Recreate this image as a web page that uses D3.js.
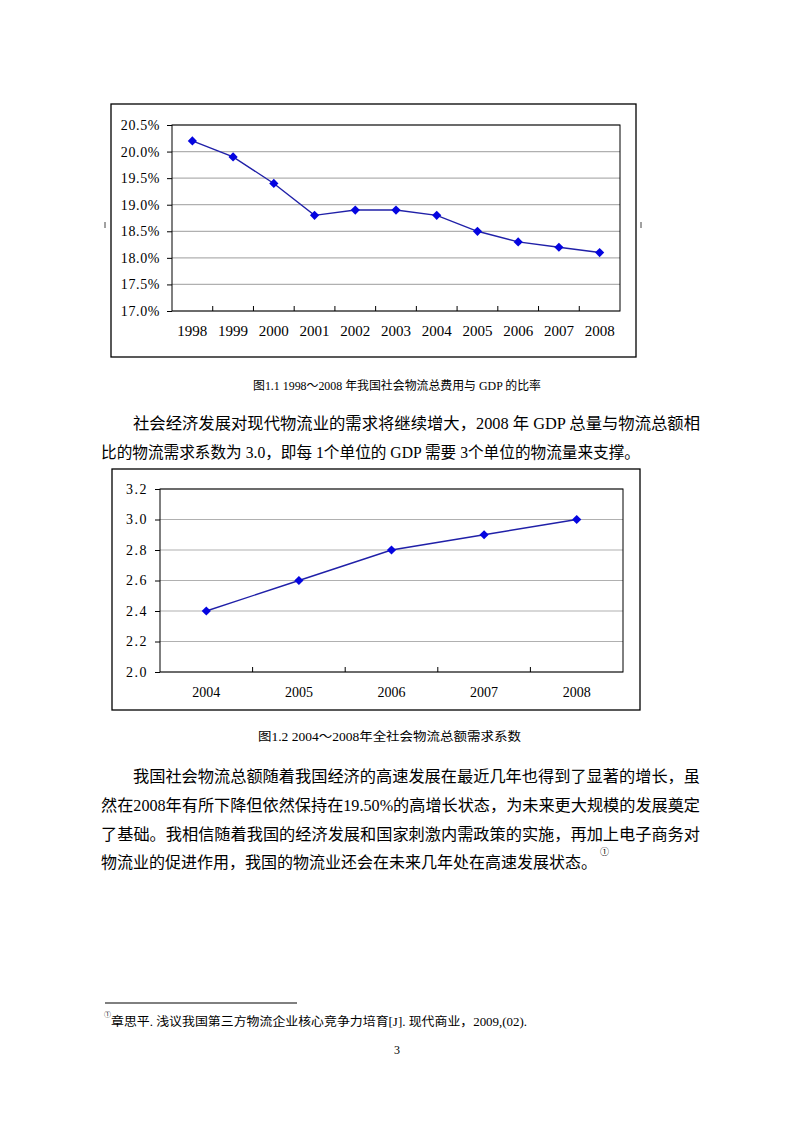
<!DOCTYPE html>
<html>
<head>
    <meta charset="utf-8">
    <script src="https://d3js.org/d3.v7.min.js"></script>
    <style>
        body { margin: 0; background: #fff; }
        .body-text { font-family: "Liberation Serif", "Noto Sans CJK SC", serif; font-size: 16px; fill: #000; }
        .cap { font-family: "Liberation Serif", "Noto Sans CJK SC", serif; font-size: 12px; fill: #000; }
        .tick-label { font-family: "Liberation Serif", serif; font-size: 14px; fill: #000; }
    </style>
</head>
<body>
    <svg width="793" height="1122"></svg>

    <script>
        const svg = d3.select("svg");
        svg.append("rect").attr("width", 793).attr("height", 1122).attr("fill", "#fff");

        // chart 1: logistics cost / GDP (%)
        const years1 = ["1998", "1999", "2000", "2001", "2002", "2003", "2004", "2005", "2006", "2007", "2008"];
        const ratio1 = [20.2, 19.9, 19.4, 18.8, 18.9, 18.9, 18.8, 18.5, 18.3, 18.2, 18.1];
        const yTicks1 = [17.0, 17.5, 18.0, 18.5, 19.0, 19.5, 20.0, 20.5];

        // chart 2: logistics demand coefficient
        const years2 = ["2004", "2005", "2006", "2007", "2008"];
        const coef2 = [2.4, 2.6, 2.8, 2.9, 3.0];
        const yTicks2 = [2.0, 2.2, 2.4, 2.6, 2.8, 3.0, 3.2];

        function drawChart(cfg) {
            const g = svg.append("g");

            // outer frame
            g.append("rect")
                .attr("x", cfg.box[0]).attr("y", cfg.box[1])
                .attr("width", cfg.box[2] - cfg.box[0]).attr("height", cfg.box[3] - cfg.box[1])
                .attr("fill", "#fff").attr("stroke", "#000").attr("stroke-width", 1.3);

            const x = d3.scaleBand().domain(cfg.cats).range([cfg.plot.l, cfg.plot.r]).padding(0);
            const y = d3.scaleLinear().domain(cfg.domain).range([cfg.plot.b, cfg.plot.t]);

            // gridlines
            g.selectAll("line.grid")
                .data(cfg.ticks)
                .enter().append("line")
                .attr("class", "grid")
                .attr("x1", cfg.plot.l).attr("x2", cfg.plot.r)
                .attr("y1", d => y(d)).attr("y2", d => y(d))
                .attr("stroke", "#b0b0b0").attr("stroke-width", 1.2);

            // plot border
            g.append("rect")
                .attr("x", cfg.plot.l).attr("y", cfg.plot.t)
                .attr("width", cfg.plot.r - cfg.plot.l).attr("height", cfg.plot.b - cfg.plot.t)
                .attr("fill", "none").attr("stroke", "#000").attr("stroke-width", 1);

            // y axis
            const yAxis = d3.axisLeft(y).tickValues(cfg.ticks).tickSize(5).tickPadding(7)
                .tickFormat(cfg.fmt);
            const ya = g.append("g").attr("transform", `translate(${cfg.plot.l},0)`).call(yAxis);
            ya.select(".domain").remove();
            ya.selectAll("line").attr("stroke", "#000");
            ya.selectAll("text").attr("class", "tick-label").attr("font-family", null).attr("font-size", null)
                .style("letter-spacing", cfg.ySpacing);

            // x axis labels (Excel style: ticks between categories, inside)
            const xAxis = d3.axisBottom(x).tickSize(0).tickPadding(cfg.xPad);
            const xa = g.append("g").attr("transform", `translate(0,${cfg.plot.b})`).call(xAxis);
            xa.select(".domain").remove();
            xa.selectAll("text").attr("class", "tick-label").attr("font-family", null).attr("font-size", null)
                .style("font-size", cfg.xSize);

            g.selectAll("line.xtick")
                .data(cfg.cats.slice(1))
                .enter().append("line")
                .attr("x1", d => x(d)).attr("x2", d => x(d))
                .attr("y1", cfg.plot.b).attr("y2", cfg.plot.b - 5)
                .attr("stroke", "#000");

            const cx = (d, i) => x(cfg.cats[i]) + x.bandwidth() / 2;

            const line = d3.line()
                .x((d, i) => cx(d, i))
                .y(d => y(d));
            g.append("path")
                .datum(cfg.vals)
                .attr("d", line)
                .attr("fill", "none")
                .attr("stroke", "#2020a8")
                .attr("stroke-width", 1.4);

            const r = 4.6;
            g.selectAll("path.mk")
                .data(cfg.vals)
                .enter().append("path")
                .attr("d", `M0,${-r}L${r},0L0,${r}L${-r},0Z`)
                .attr("transform", (d, i) => `translate(${cx(d, i)},${y(d)})`)
                .attr("fill", "#0505e0");
        }

        drawChart({
            box: [111, 104, 636, 357],
            plot: { l: 172, r: 620, t: 125, b: 311 },
            cats: years1, vals: ratio1, ticks: yTicks1,
            domain: [17.0, 20.5],
            fmt: d => d.toFixed(1) + "%",
            xPad: 14, xSize: "15px", ySpacing: "0.6px"
        });

        drawChart({
            box: [112, 469, 640, 710],
            plot: { l: 160, r: 623, t: 489, b: 672 },
            cats: years2, vals: coef2, ticks: yTicks2,
            domain: [2.0, 3.2],
            fmt: d => d.toFixed(1),
            xPad: 15, xSize: "14px", ySpacing: "1.5px"
        });

        // small marks beside chart 1
        [105, 641].forEach(mx => {
            svg.append("line").attr("x1", mx).attr("x2", mx).attr("y1", 222).attr("y2", 228)
                .attr("stroke", "#444").attr("stroke-width", 1);
        });

        function txt(cls, s, x0, yc, len) {
            const t = svg.append("text").attr("class", cls)
                .attr("x", x0).attr("y", yc)
                .attr("dominant-baseline", "central")
                .text(s);
            if (len) t.attr("textLength", len).attr("lengthAdjust", "spacingAndGlyphs");
            return t;
        }

        // captions
        txt("cap", "图1.1 1998～2008 年我国社会物流总费用与 GDP 的比率", 253, 386, 288);
        txt("cap", "图1.2 2004～2008年全社会物流总额需求系数", 258, 737, 263);

        // body paragraphs
        const para1 = [
            "社会经济发展对现代物流业的需求将继续增大，2008 年 GDP 总量与物流总额相",
            "比的物流需求系数为 3.0，即每 1个单位的 GDP 需要 3个单位的物流量来支撑。"
        ];
        const para2 = [
            "我国社会物流总额随着我国经济的高速发展在最近几年也得到了显著的增长，虽",
            "然在2008年有所下降但依然保持在19.50%的高增长状态，为未来更大规模的发展奠定",
            "了基础。我相信随着我国的经济发展和国家刺激内需政策的实施，再加上电子商务对",
            "物流业的促进作用，我国的物流业还会在未来几年处在高速发展状态。"
        ];

        txt("body-text", para1[0], 133, 423, 567);
        txt("body-text", para1[1], 101, 452, 539);

        txt("body-text", para2[0], 133, 776, 567);
        txt("body-text", para2[1], 101, 805, 599);
        txt("body-text", para2[2], 101, 834, 599);
        txt("body-text", para2[3], 101, 862, 496);
        svg.append("text").attr("x", 600).attr("y", 855)
            .attr("font-size", 9).attr("font-family", "Noto Sans CJK SC").attr("fill", "#000")
            .text("①");

        // footnote
        svg.append("line").attr("x1", 105).attr("x2", 297).attr("y1", 1003).attr("y2", 1003)
            .attr("stroke", "#000").attr("stroke-width", 1);
        svg.append("text").attr("x", 104).attr("y", 1017)
            .attr("font-size", 7).attr("font-family", "Noto Sans CJK SC").attr("fill", "#000")
            .text("①");
        txt("cap", "章思平. 浅议我国第三方物流企业核心竞争力培育[J]. 现代商业，2009,(02).", 111, 1022, 416);

        // page number
        svg.append("text").attr("x", 397).attr("y", 1050)
            .attr("text-anchor", "middle").attr("dominant-baseline", "central")
            .attr("font-family", "Liberation Serif").attr("font-size", 12)
            .text("3");
    </script>
</body>
</html>
